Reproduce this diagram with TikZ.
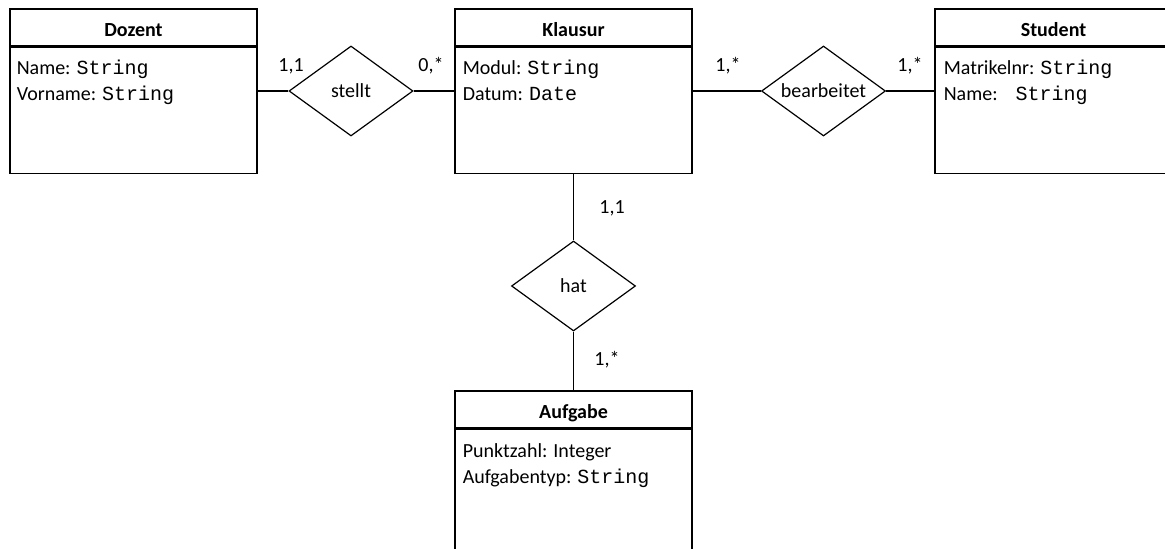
\documentclass[tikz,border=0pt]{standalone}
\usepackage{fontspec}
\setmainfont{Carlito}
\setmonofont{Liberation Mono}
\usetikzlibrary{shapes.geometric, positioning}
\newcommand{\typ}[1]{\texttt{#1}}
\tikzset{
  kopf/.style={rectangle, draw, line width=0.6pt, minimum height=18.5pt,
    inner sep=0pt, text height=9pt, text depth=0pt, font=\bfseries},
  rumpf/.style={rectangle, draw, line width=0.6pt, minimum height=63pt,
    inner sep=0pt},
  attr/.style={anchor=base west, align=left, inner sep=0pt,
    font=\fontsize{10pt}{13pt}\selectfont},
  beziehung/.style={diamond, draw, line width=0.6pt, aspect=1.38,
    minimum width=62pt, minimum height=45pt, inner sep=0pt},
  kard/.style={inner sep=0pt},
  linie/.style={line width=0.6pt}
}
\begin{document}
\begin{tikzpicture}[x=0.5pt, y=-0.5pt, node distance=0pt]
  \path[use as bounding box, clip] (0,0) rectangle (1165,549);
  % Entitaeten (base west sitzt auf der letzten Zeile)
  \node[kopf, minimum width=123.5pt] (dozent) at (133.5,27.5) {Dozent};
  \node[rumpf, minimum width=123.5pt, below=of dozent] (dozentR) {};
  \node[attr] (dozentA) at ([shift={(7,54)}]dozentR.north west)
    {Name: \typ{String}\\Vorname: \typ{String}};
  \node[kopf, minimum width=118.5pt] (klausur) at (573.5,27.5) {Klausur};
  \node[rumpf, minimum width=118.5pt, below=of klausur] (klausurR) {};
  \node[attr] (klausurA) at ([shift={(8,54)}]klausurR.north west)
    {Modul: \typ{String}\\Datum: \typ{Date}};
  \node[kopf, minimum width=118.5pt] (student) at (1053.5,27.5) {Student};
  \node[rumpf, minimum width=118.5pt, below=of student] (studentR) {};
  \node[attr] (studentA) at ([shift={(9,54)}]studentR.north west)
    {Matrikelnr: \typ{String}\\Name: \typ{~String}};
  \node[kopf, minimum width=118.5pt] (aufgabe) at (573.5,409.5) {Aufgabe};
  \node[rumpf, minimum width=118.5pt, below=of aufgabe] (aufgabeR) {};
  \node[attr] (aufgabeA) at ([shift={(8,55)}]aufgabeR.north west)
    {Punktzahl: Integer\\Aufgabentyp: \typ{String}};
  % Beziehungen
  \node[beziehung] (stellt) at (351,91) {stellt};
  \node[beziehung] (bearbeitet) at (823.5,91) {bearbeitet};
  \node[beziehung] (hat) at (573.5,286) {hat};
  \draw[linie] (dozentR.east |- stellt.west) -- (stellt.west);
  \draw[linie] (stellt.east) -- (klausurR.west |- stellt.east);
  \draw[linie] (klausurR.east |- bearbeitet.west) -- (bearbeitet.west);
  \draw[linie] (bearbeitet.east) -- (studentR.west |- bearbeitet.east);
  \draw[linie] (klausurR.south) -- (hat.north);
  \draw[linie] (hat.south) -- (aufgabe.north);
  % Kardinalitaeten
  \node[kard] (k1) at (291,66) {1,1};
  \node[kard] (k2) at (431,66) {0,*};
  \node[kard] (k3) at (728,66) {1,*};
  \node[kard] (k4) at (910,66) {1,*};
  \node[kard] (k5) at (612,208) {1,1};
  \node[kard] (k6) at (607,360) {1,*};
\end{tikzpicture}
\end{document}
